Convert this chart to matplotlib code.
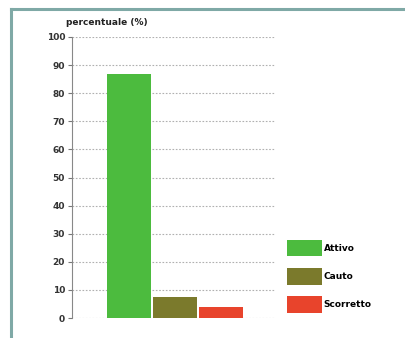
import matplotlib

matplotlib.use("Agg")

import matplotlib.pyplot as plt
from matplotlib.lines import Line2D
from matplotlib.patches import Patch

categories = ["Attivo", "Cauto", "Scorretto"]
values = [87, 7.5, 4]
colors = ["#4cbb3e", "#7b7a2c", "#e8442c"]
y_ticks = [0, 10, 20, 30, 40, 50, 60, 70, 80, 90, 100]
y_label = "percentuale (%)"

W, H = 406, 338
fig = plt.figure(figsize=(W / 100, H / 100), dpi=100)
fig.patch.set_facecolor("white")

# teal frame of the surrounding panel (only top and left edges visible)
frame = "#7fa9a6"
fig.add_artist(Line2D([11 / W, 1], [1 - 9 / H, 1 - 9 / H], color=frame, lw=2.2))
fig.add_artist(Line2D([11 / W, 11 / W], [0, 1 - 9 / H], color=frame, lw=2.2))

ax = fig.add_axes([72 / W, 20 / H, 203 / W, 281 / H])
x = range(len(values))
ax.bar(x, values, width=0.96, color=colors, zorder=3)
ax.set_xlim(-1.24, 3.17)
ax.set_ylim(0, 100)
ax.set_yticks(y_ticks)
ax.set_yticklabels([str(t) for t in y_ticks], fontsize=6.5, color="#333333", fontweight="bold")
ax.set_xticks([])
ax.tick_params(axis="y", length=3, width=0.8, color="#777777", pad=2)
for side in ["top", "right", "bottom"]:
    ax.spines[side].set_visible(False)
ax.spines["left"].set_color("#888888")
ax.spines["left"].set_linewidth(0.8)
ax.yaxis.grid(True, linestyle=(0, (1.5, 1.5)), color="#b0b0b0", linewidth=0.8, zorder=0)
ax.set_axisbelow(True)
ax.text(-0.03, 1.035, y_label, transform=ax.transAxes, fontsize=6.5,
        fontweight="bold", color="#222222", ha="left", va="bottom")

handles = [Patch(facecolor=c, edgecolor="none") for c in colors]
fig.legend(handles, categories, loc="upper left", bbox_to_anchor=(282 / W, 1 - 235 / H),
           frameon=False, handlelength=3.9, handleheight=2.5,
           labelspacing=1.25, handletextpad=0.2, borderpad=0, prop={"weight": "bold", "size": 6.5})

fig.savefig("out.png", dpi=100)
